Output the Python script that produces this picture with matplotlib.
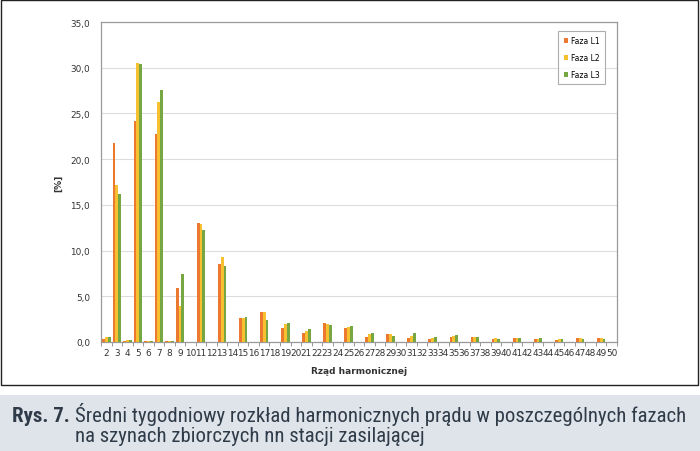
import matplotlib
matplotlib.use("Agg")
import matplotlib.pyplot as plt
import numpy as np
from matplotlib.patches import Rectangle

harmonics = list(range(2, 51))
faza_l1 = [0.3, 21.8, 0.1, 24.2, 0.1, 22.8, 0.1, 5.9, 0.05, 13.0, 0.05, 8.5, 0.0, 2.6, 0.0, 3.3, 0.0, 1.5, 0.0, 1.0,
           0.0, 2.1, 0.0, 1.5, 0.0, 0.6, 0.0, 0.85, 0.0, 0.4, 0.0, 0.35, 0.0, 0.55, 0.0, 0.5, 0.0, 0.3, 0.0, 0.4,
           0.0, 0.3, 0.0, 0.2, 0.0, 0.4, 0.0, 0.4, 0.0]
faza_l2 = [0.5, 17.2, 0.2, 30.5, 0.1, 26.2, 0.1, 3.9, 0.05, 12.9, 0.05, 9.3, 0.0, 2.6, 0.0, 3.3, 0.0, 2.0, 0.0, 1.2,
           0.0, 2.0, 0.0, 1.65, 0.0, 0.85, 0.0, 0.85, 0.0, 0.65, 0.0, 0.45, 0.0, 0.65, 0.0, 0.6, 0.0, 0.4, 0.0, 0.4,
           0.0, 0.35, 0.0, 0.3, 0.0, 0.4, 0.0, 0.4, 0.0]
faza_l3 = [0.6, 16.2, 0.2, 30.4, 0.1, 27.6, 0.1, 7.4, 0.05, 12.3, 0.05, 8.3, 0.0, 2.7, 0.0, 2.45, 0.0, 2.05, 0.0, 1.45,
           0.0, 1.85, 0.0, 1.8, 0.0, 1.0, 0.0, 0.65, 0.0, 0.95, 0.0, 0.5, 0.0, 0.8, 0.0, 0.6, 0.0, 0.3, 0.0, 0.4,
           0.0, 0.4, 0.0, 0.3, 0.0, 0.35, 0.0, 0.3, 0.0]
series_names = ["Faza L1", "Faza L2", "Faza L3"]
colors = ["#EB7A30", "#F7C031", "#76A743"]

caption_bold = "Rys. 7."
caption_line1 = "Średni tygodniowy rozkład harmonicznych prądu w poszczególnych fazach"
caption_line2 = "na szynach zbiorczych nn stacji zasilającej"

W, H = 700, 452
fig = plt.figure(figsize=(W / 100, H / 100), dpi=100)
fig.patch.set_facecolor("white")

fig.add_artist(Rectangle((1 / W, 1 - 386 / H), 697 / W, 385 / H, transform=fig.transFigure,
                         fill=False, edgecolor="#222222", linewidth=1.0))
fig.add_artist(Rectangle((0, 0), 1, (H - 396) / H, transform=fig.transFigure,
                         facecolor="#dfe4ea", edgecolor="none"))

ax = fig.add_axes([101 / W, 1 - 343 / H, (617 - 101) / W, (343 - 23) / H])
x = np.arange(len(harmonics))
bw = 0.27
for i, (vals, name, c) in enumerate(zip([faza_l1, faza_l2, faza_l3], series_names, colors)):
    ax.bar(x + (i - 1) * bw, vals, width=bw, color=c, label=name, zorder=3, linewidth=0)

ax.set_xlim(-0.5, len(harmonics) - 0.5)
ax.set_ylim(0, 35)
ax.set_yticks(np.arange(0, 35.1, 5))
ax.set_yticklabels([f"{v:.1f}".replace(".", ",") for v in np.arange(0, 35.1, 5)])
ax.set_xticks(x)
ax.set_xticklabels([str(h) for h in harmonics])
ax.set_xticks(np.arange(-0.5, len(harmonics), 1), minor=True)
ax.tick_params(axis="x", which="major", length=0, labelsize=6.4, colors="#333333", pad=4)
ax.tick_params(axis="x", which="minor", length=3, color="#888888")
ax.tick_params(axis="y", length=0, labelsize=6.4, colors="#333333", pad=8)
ax.grid(axis="y", color="#dddddd", linewidth=0.8, zorder=0)
for s in ax.spines.values():
    s.set_color("#999999")
    s.set_linewidth(0.9)

ax.set_ylabel("[%]", fontsize=6.5, fontweight="bold", color="#333333", labelpad=5)
ax.set_xlabel("Rząd harmonicznej", fontsize=6.5, fontweight="bold", color="#333333", labelpad=7)

leg = ax.legend(loc="upper right", bbox_to_anchor=(0.985, 0.985), fontsize=5.5, frameon=True,
                fancybox=False, handlelength=0.6, handleheight=0.6, labelspacing=1.05,
                borderpad=0.7, handletextpad=0.4)
leg.get_frame().set_edgecolor("#999999")
leg.get_frame().set_linewidth(0.8)

cap_font = ["Roboto Condensed", "DejaVu Sans"]
tb = fig.text(12 / W, 1 - 422 / H, caption_bold, fontsize=13, fontweight="bold", family=cap_font,
              stretch="condensed", color="#2f3b48", va="baseline")
t1 = fig.text(75 / W, 1 - 422 / H, caption_line1, fontsize=13, family=cap_font, stretch="condensed",
              color="#2f3b48", va="baseline")
t2 = fig.text(75 / W, 1 - 442 / H, caption_line2, fontsize=13, family=cap_font, stretch="condensed",
              color="#2f3b48", va="baseline")

# fit caption width to the reference (line 1 spans ~612 px)
r = fig.canvas.get_renderer()
w1 = t1.get_window_extent(r).width
scale = min(1.15, 612 / w1)
for t in (tb, t1, t2):
    t.set_fontsize(13 * scale)

fig.savefig("out.png", dpi=100, facecolor="white")
